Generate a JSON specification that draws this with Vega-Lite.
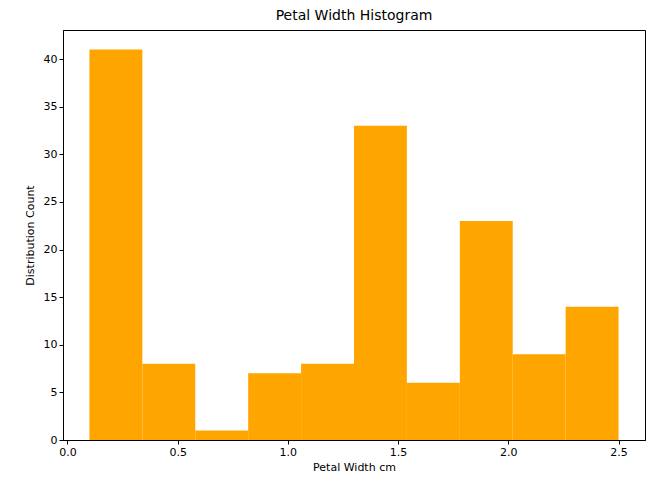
{
  "$schema": "https://vega.github.io/schema/vega-lite/v6.json",
  "width": 582,
  "height": 410,
  "autosize": {"type": "none"},
  "padding": {"left": 63, "top": 30, "right": 10, "bottom": 54},
  "background": "white",
  "title": {"text": "Petal Width Histogram", "font": "DejaVu Sans", "fontSize": 14, "fontWeight": "normal", "offset": 7, "color": "black"},
  "config": {
    "view": {"stroke": "black", "strokeWidth": 1},
    "axis": {"grid": false, "labelFont": "DejaVu Sans", "titleFont": "DejaVu Sans", "labelFontSize": 11, "titleFontSize": 11, "titleFontWeight": "normal", "labelColor": "black", "titleColor": "black", "tickColor": "black", "domainColor": "black", "tickSize": 4}
  },
  "data": {"values": [
    {"start": 0.10, "end": 0.34, "count": 41},
    {"start": 0.34, "end": 0.58, "count": 8},
    {"start": 0.58, "end": 0.82, "count": 1},
    {"start": 0.82, "end": 1.06, "count": 7},
    {"start": 1.06, "end": 1.30, "count": 8},
    {"start": 1.30, "end": 1.54, "count": 33},
    {"start": 1.54, "end": 1.78, "count": 6},
    {"start": 1.78, "end": 2.02, "count": 23},
    {"start": 2.02, "end": 2.26, "count": 9},
    {"start": 2.26, "end": 2.50, "count": 14}
  ]},
  "mark": {"type": "bar", "color": "orange"},
  "encoding": {
    "x": {"field": "start", "type": "quantitative", "scale": {"domain": [-0.02, 2.62], "nice": false, "zero": false},
      "axis": {"values": [0, 0.5, 1, 1.5, 2, 2.5], "format": ".1f", "title": "Petal Width cm", "titlePadding": 4}},
    "x2": {"field": "end"},
    "y": {"field": "count", "type": "quantitative", "stack": null, "scale": {"domain": [0, 43.05], "nice": false},
      "axis": {"values": [0, 5, 10, 15, 20, 25, 30, 35, 40], "title": "Distribution Count", "titlePadding": 8}},
    "y2": {"datum": 0}
  }
}
